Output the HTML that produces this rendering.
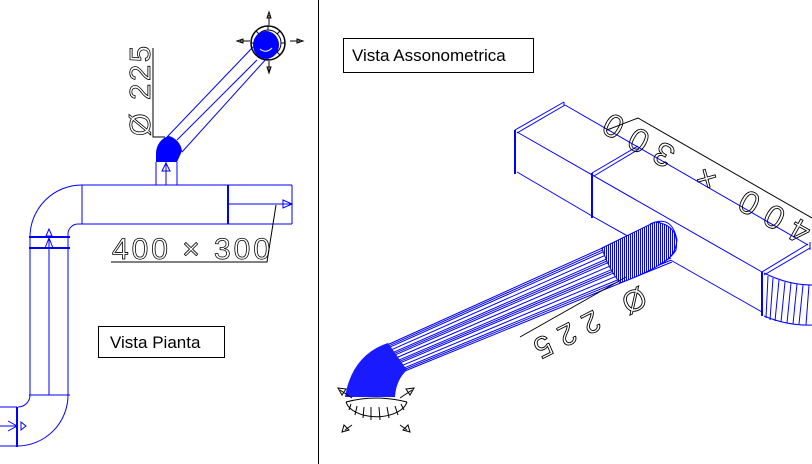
<!DOCTYPE html>
<html><head><meta charset="utf-8"><style>
html,body{margin:0;padding:0;background:#fff}
svg{display:block}
text{font-family:"Liberation Sans",sans-serif}
</style></head><body>
<svg width="812" height="464" viewBox="0 0 812 464" xmlns="http://www.w3.org/2000/svg">
<defs>
<pattern id="hz" width="2" height="2" patternUnits="userSpaceOnUse"><rect width="2" height="2" fill="#fff"/><rect width="1" height="2" fill="#0000ff"/></pattern>
</defs>
<rect width="812" height="464" fill="#fff"/>
<line x1="318.5" y1="0" x2="318.5" y2="464" stroke="#000" stroke-width="1"/>

<!-- LEFT VIEW -->
<g stroke="#0000ff" fill="none" stroke-width="1">
  <line x1="82" y1="185" x2="292" y2="185"/>
  <line x1="82" y1="224" x2="292" y2="224"/>
  <line x1="82" y1="185" x2="82" y2="224"/>
  <line x1="228" y1="185" x2="228" y2="224" stroke-width="2"/>
  <line x1="292" y1="185" x2="292" y2="224"/>
  <line x1="228" y1="204" x2="292" y2="204"/>
  <path d="M283,200 L292,204 L283,208 Z"/>
  <line x1="156" y1="162" x2="156" y2="185"/>
  <line x1="177" y1="162" x2="177" y2="185"/>
  <line x1="166" y1="162" x2="166" y2="185"/>
  <path d="M162,171 L166,163 L170,171 Z"/>
  <line x1="167" y1="137" x2="253" y2="47"/>
  <line x1="177" y1="140" x2="257" y2="60"/>
  <line x1="182" y1="152" x2="267" y2="58"/>
  <path d="M82,185 A52,52 0 0 0 30,237"/>
  <path d="M82,224 L78,224 A10,10 0 0 0 68,234 L68,237"/>
  <line x1="30" y1="237" x2="30" y2="395"/>
  <line x1="68" y1="237" x2="68" y2="395"/>
  <line x1="49" y1="237" x2="49" y2="395"/>
  <line x1="29" y1="237" x2="70" y2="237" stroke-width="2"/>
  <line x1="29" y1="248" x2="70" y2="248" stroke-width="2"/>
  <path d="M45,248 L49,238 L53,248"/>
  <path d="M46,236 L49,229 L52,236 Z"/>
  <line x1="29" y1="395" x2="70" y2="395"/>
  <path d="M68,395 A51,51 0 0 1 17,446"/>
  <path d="M30,395 A12,12 0 0 1 18,407"/>
  <line x1="17" y1="407" x2="17" y2="447" stroke-width="2"/>
  <line x1="0" y1="407" x2="17" y2="407"/>
  <line x1="0" y1="446" x2="17" y2="446"/>
  <line x1="0" y1="426" x2="17" y2="426"/>
  <path d="M8,421 L17,426 L8,431"/>
  <path d="M21,422 L26,426 L21,430 Z"/>
</g>
<path d="M156,162 L156,154 A16,18 0 0 1 169,136 A18,18 0 0 1 182,151 L177,162 Z" fill="#0000ff"/>
<g stroke="#000" fill="none" stroke-width="1">
  <circle cx="268" cy="43" r="17" stroke-width="1.5"/>
  <circle cx="268" cy="43" r="13"/>
  <g stroke-width="1">
    <line x1="268" y1="26" x2="268" y2="30"/><line x1="268" y1="56" x2="268" y2="60"/>
    <line x1="251" y1="43" x2="255" y2="43"/><line x1="281" y1="43" x2="285" y2="43"/>
    <line x1="256" y1="31" x2="259" y2="34"/><line x1="280" y1="31" x2="277" y2="34"/>
    <line x1="256" y1="55" x2="259" y2="52"/><line x1="280" y1="55" x2="277" y2="52"/>
  </g>
  <line x1="269" y1="15" x2="269" y2="25"/><path d="M267,18 L269,12 L271,18 Z"/>
  <line x1="269" y1="61" x2="269" y2="71"/><path d="M267,67 L269,73 L271,67 Z"/>
  <line x1="240" y1="41" x2="250" y2="41"/><path d="M243,39 L237,41 L243,43 Z"/>
  <line x1="290" y1="41" x2="300" y2="41"/><path d="M297,39 L303,41 L297,43 Z"/>
</g>
<ellipse cx="266" cy="45" rx="13" ry="14" fill="#0000ff"/>
<path d="M260,49 Q266,54 272,48" stroke="#fff" fill="none" stroke-width="1"/>
<g stroke="#000" fill="none" stroke-width="1">
  <polyline points="153,48 153,137 165,137"/>
  <polyline points="111,262 267,262 276,205"/>
</g>
<text transform="translate(150,136) rotate(-90)" font-size="29" textLength="90" lengthAdjust="spacing" fill="none" stroke="#000" stroke-width="0.8">Ø 225</text>
<text x="112" y="259" font-size="30" textLength="158" lengthAdjust="spacing" fill="none" stroke="#000" stroke-width="0.8">400 × 300</text>
<rect x="98.5" y="326.5" width="126" height="31" fill="none" stroke="#000" stroke-width="1"/>
<text x="110" y="348" font-size="17" fill="#000">Vista Pianta</text>

<!-- RIGHT VIEW -->
<rect x="343.5" y="38.5" width="190" height="34" fill="none" stroke="#000" stroke-width="1"/>
<text x="352" y="61" font-size="17" fill="#000">Vista Assonometrica</text>

<g stroke="#0000ff" fill="none" stroke-width="1">
  <line x1="515" y1="130" x2="515" y2="174" stroke-width="2"/>
  <line x1="515" y1="130" x2="564" y2="102"/>
  <line x1="517" y1="133" x2="565" y2="105"/>
  <line x1="564" y1="102" x2="564" y2="106"/>
  <line x1="517" y1="132" x2="762" y2="272"/>
  <line x1="517" y1="172" x2="592" y2="216"/>
  <line x1="565" y1="105" x2="808" y2="245"/>
  <line x1="592" y1="216" x2="640" y2="243"/>
  <line x1="667" y1="258" x2="762" y2="312"/>
  <line x1="592" y1="173" x2="592" y2="218" stroke-width="2"/>
  <line x1="592" y1="173" x2="638" y2="146"/>
  <line x1="594" y1="176" x2="639" y2="149"/>
  <line x1="762" y1="272" x2="762" y2="316" stroke-width="2"/>
  <line x1="762" y1="272" x2="808" y2="244"/>
  <line x1="764" y1="275" x2="810" y2="248"/>
  <line x1="810" y1="242" x2="810" y2="250"/>
  <path d="M764,273 Q788,285 812,285"/>
  <path d="M764,316 Q788,326 812,325"/>
  <g stroke-width="1">
    <line x1="768" y1="276" x2="766" y2="318"/><line x1="773" y1="278" x2="770" y2="320"/>
    <line x1="779" y1="280" x2="775" y2="321"/><line x1="785" y1="282" x2="781" y2="322"/>
    <line x1="791" y1="283" x2="787" y2="323"/><line x1="797" y1="284" x2="793" y2="324"/>
    <line x1="803" y1="285" x2="799" y2="324"/><line x1="809" y1="285" x2="806" y2="325"/>
  </g>
</g>
<g stroke="#000" fill="none" stroke-width="1">
  <polyline points="607,130 638,118 812,218"/>
</g>
<text transform="translate(813,226) rotate(209.5)" font-size="33" textLength="232" lengthAdjust="spacing" fill="none" stroke="#000" stroke-width="0.9">400 × 300</text>

<polygon points="387,345 660,222 672,262 400,373" fill="#fff"/>
<g stroke="#0000ff" stroke-width="1">
  <line x1="387" y1="345" x2="660" y2="222"/>
  <line x1="388.3" y1="347.8" x2="661.2" y2="226"/>
  <line x1="389.6" y1="350.6" x2="662.4" y2="230"/>
  <line x1="390.9" y1="353.4" x2="663.6" y2="234"/>
  <line x1="392.2" y1="356.2" x2="664.8" y2="238"/>
  <line x1="393.5" y1="359" x2="666" y2="242"/>
  <line x1="394.8" y1="361.8" x2="667.2" y2="246"/>
  <line x1="396.1" y1="364.6" x2="668.4" y2="250"/>
  <line x1="397.4" y1="367.4" x2="669.6" y2="254"/>
  <line x1="398.7" y1="370.2" x2="670.8" y2="258"/>
  <line x1="400" y1="373" x2="672" y2="262"/>
  <line x1="387.6" y1="346.4" x2="660.6" y2="224"/>
  <line x1="391.5" y1="354.8" x2="664.2" y2="236"/>
  <line x1="395.4" y1="363.2" x2="667.8" y2="248"/>
  <line x1="399.3" y1="371.6" x2="671.4" y2="260"/>
</g>
<path d="M602,248 L655,222 Q680,225 676,250 Q668,265 620,283 Q608,268 602,248 Z" fill="url(#hz)" stroke="#0000ff" stroke-width="1"/>
<path d="M650,224 Q672,214 677,240 Q675,258 660,264" fill="none" stroke="#0000ff" stroke-width="1"/>
<path d="M388,343 Q352,355 345,397 L395,397 Q396,380 407,370 Z" fill="#1a1aff"/>
<g stroke="#000" fill="none" stroke-width="1">
  <path d="M346,402 A31,18 0 0 0 407,402"/>
  <path d="M346,402 Q376,394 407,402"/>
  <line x1="351" y1="404" x2="349" y2="410"/><line x1="357" y1="406" x2="355" y2="415"/>
  <line x1="364" y1="407" x2="363" y2="418"/><line x1="371" y1="407" x2="371" y2="420"/>
  <line x1="379" y1="407" x2="380" y2="420"/><line x1="387" y1="407" x2="389" y2="418"/>
  <line x1="395" y1="406" x2="398" y2="415"/><line x1="401" y1="404" x2="404" y2="410"/>
  <line x1="340" y1="390" x2="352" y2="398"/><path d="M338,388 L346,389 L342,395 Z"/>
  <line x1="412" y1="390" x2="400" y2="398"/><path d="M414,388 L406,389 L410,395 Z"/>
  <line x1="345" y1="430" x2="352" y2="425"/><path d="M342,432 L344,425 L349,430 Z"/>
  <line x1="407" y1="430" x2="400" y2="425"/><path d="M410,432 L408,425 L403,430 Z"/>
</g>
<line x1="520" y1="337" x2="626" y2="277" stroke="#000" stroke-width="1"/>
<text transform="translate(640,286) rotate(153)" font-size="30" textLength="122" lengthAdjust="spacing" fill="none" stroke="#000" stroke-width="0.9">Ø 225</text>
</svg>
</body></html>
